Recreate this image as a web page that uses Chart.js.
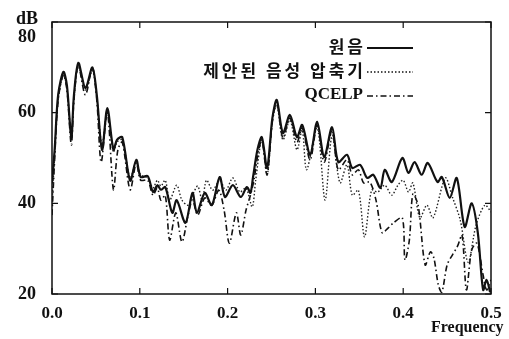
<!DOCTYPE html>
<html>
<head>
<meta charset="utf-8">
<script src="https://cdn.jsdelivr.net/npm/chart.js@4.4.0/dist/chart.umd.min.js"></script>
<style>
  html, body { margin: 0; padding: 0; background: #fff; }
  canvas { display: block; }
</style>
</head>
<body>
<canvas id="spec" width="509" height="339"></canvas>
<script>
// tick values and labels
var xTicks = [0, 0.1, 0.2, 0.3, 0.4, 0.5];
var yTicks = [20, 40, 60, 80];
var seriesNames = ['원음', '제안된 음성 압축기', 'QCELP'];

// 원음 (original)
var origFreq = [0.000, 0.003, 0.007, 0.013, 0.017, 0.022, 0.025, 0.030, 0.038, 0.046, 0.051, 0.057, 0.063, 0.070, 0.074, 0.080, 0.089, 0.096, 0.101, 0.109, 0.115, 0.120, 0.124, 0.129, 0.137, 0.142, 0.152, 0.160, 0.165, 0.174, 0.182, 0.191, 0.197, 0.206, 0.215, 0.222, 0.226, 0.229, 0.234, 0.239, 0.245, 0.251, 0.256, 0.263, 0.271, 0.279, 0.285, 0.294, 0.302, 0.310, 0.319, 0.326, 0.336, 0.342, 0.351, 0.359, 0.366, 0.374, 0.379, 0.387, 0.399, 0.406, 0.413, 0.421, 0.428, 0.439, 0.444, 0.453, 0.461, 0.470, 0.478, 0.485, 0.491, 0.495, 0.499];
var origDb = [44.5, 51.8, 63.9, 69.0, 66.0, 54.6, 63.9, 71.0, 65.4, 70.0, 63.9, 51.8, 61.0, 51.8, 54.0, 54.6, 45.0, 49.6, 45.8, 46.0, 42.5, 44.0, 43.0, 43.6, 37.9, 40.7, 35.7, 42.3, 37.9, 42.3, 39.6, 45.8, 41.4, 44.0, 41.4, 43.6, 42.3, 45.8, 51.8, 54.6, 47.8, 58.8, 62.8, 55.5, 59.5, 54.6, 57.3, 50.7, 58.0, 50.2, 56.8, 49.1, 50.7, 47.8, 48.5, 45.6, 46.3, 43.4, 47.4, 44.7, 50.0, 46.7, 49.1, 46.3, 48.9, 44.7, 45.8, 41.2, 45.6, 34.8, 40.0, 33.5, 20.9, 23.1, 20.4];

// 제안된 음성 압축기 (proposed coder)
var propFreq = [0.000, 0.003, 0.007, 0.013, 0.017, 0.022, 0.025, 0.030, 0.038, 0.046, 0.051, 0.057, 0.063, 0.070, 0.074, 0.080, 0.089, 0.096, 0.101, 0.109, 0.115, 0.120, 0.124, 0.129, 0.134, 0.142, 0.148, 0.155, 0.160, 0.166, 0.171, 0.176, 0.183, 0.191, 0.198, 0.206, 0.214, 0.221, 0.228, 0.232, 0.239, 0.245, 0.251, 0.256, 0.263, 0.271, 0.279, 0.285, 0.290, 0.302, 0.311, 0.319, 0.328, 0.336, 0.342, 0.349, 0.356, 0.364, 0.371, 0.379, 0.387, 0.394, 0.400, 0.406, 0.411, 0.419, 0.427, 0.434, 0.448, 0.456, 0.465, 0.474, 0.483, 0.493, 0.500];
var propDb = [39.6, 50.7, 62.8, 68.3, 65.4, 55.0, 63.2, 70.3, 65.0, 69.3, 63.2, 52.9, 60.1, 51.3, 53.5, 54.0, 45.6, 49.1, 46.3, 45.6, 43.4, 45.1, 43.8, 45.1, 40.7, 44.0, 40.7, 39.6, 41.8, 43.8, 40.7, 45.1, 42.9, 45.1, 42.9, 45.6, 42.5, 43.4, 39.2, 45.1, 54.0, 46.3, 58.0, 61.7, 54.0, 58.4, 51.8, 56.2, 47.4, 56.6, 40.7, 55.0, 44.5, 48.5, 41.8, 42.9, 32.6, 42.9, 42.5, 44.0, 41.8, 44.0, 45.1, 42.5, 44.5, 36.8, 39.6, 36.8, 45.6, 41.4, 36.3, 27.0, 35.2, 39.6, 38.1];

// QCELP
var qcelpFreq = [0.000, 0.003, 0.007, 0.013, 0.017, 0.022, 0.025, 0.030, 0.038, 0.046, 0.051, 0.056, 0.063, 0.070, 0.075, 0.080, 0.089, 0.096, 0.101, 0.109, 0.115, 0.120, 0.124, 0.129, 0.134, 0.141, 0.148, 0.155, 0.160, 0.166, 0.174, 0.182, 0.190, 0.196, 0.202, 0.210, 0.215, 0.221, 0.226, 0.230, 0.235, 0.239, 0.245, 0.251, 0.256, 0.263, 0.271, 0.279, 0.285, 0.294, 0.302, 0.310, 0.319, 0.326, 0.336, 0.342, 0.349, 0.355, 0.362, 0.369, 0.376, 0.383, 0.389, 0.399, 0.402, 0.407, 0.411, 0.417, 0.425, 0.431, 0.435, 0.440, 0.444, 0.450, 0.456, 0.462, 0.467, 0.472, 0.478, 0.484, 0.491, 0.495, 0.500];
var qcelpDb = [37.4, 49.6, 62.8, 68.3, 65.0, 52.9, 62.8, 70.3, 63.9, 69.9, 62.8, 49.1, 60.1, 43.0, 51.8, 53.5, 43.0, 48.9, 45.1, 45.1, 41.8, 43.4, 40.7, 41.8, 31.9, 37.9, 31.5, 37.4, 40.7, 37.4, 41.2, 39.6, 42.9, 38.5, 31.2, 37.9, 33.0, 38.5, 41.8, 45.1, 51.3, 54.0, 46.3, 58.0, 62.4, 54.4, 58.8, 53.5, 56.6, 49.6, 57.3, 49.1, 56.2, 47.4, 49.6, 46.3, 47.4, 44.5, 44.7, 40.7, 33.5, 34.6, 35.7, 36.8, 27.5, 31.9, 42.0, 39.6, 26.4, 29.3, 27.9, 22.0, 20.4, 26.4, 28.6, 30.6, 33.0, 20.9, 29.7, 31.2, 24.2, 20.9, 23.1];

function pts(fs, vs) {
    return fs.map(function (f, i) { return { x: f, y: vs[i] }; });
}

var serif = '"Liberation Serif", "Times New Roman", serif';
var hangul = '"Noto Sans CJK KR", "Noto Sans", sans-serif';

// frame, inward ticks, tick labels and the legend in the gnuplot look
var framePlugin = {
    id: 'frame',
    afterDraw: function (chart) {
        var ctx = chart.ctx;
        var a = chart.chartArea;
        var xs = chart.scales.x, ys = chart.scales.y;
        ctx.save();
        ctx.strokeStyle = '#111';
        ctx.lineWidth = 1.5;
        ctx.setLineDash([]);
        ctx.strokeRect(a.left, a.top, a.right - a.left, a.bottom - a.top);

        ctx.lineWidth = 1.2;
        xTicks.forEach(function (t) {
            var px = xs.getPixelForValue(t);
            ctx.beginPath();
            ctx.moveTo(px, a.bottom); ctx.lineTo(px, a.bottom - 6);
            ctx.moveTo(px, a.top); ctx.lineTo(px, a.top + 6);
            ctx.stroke();
        });
        yTicks.forEach(function (t) {
            var py = ys.getPixelForValue(t);
            ctx.beginPath();
            ctx.moveTo(a.left, py); ctx.lineTo(a.left + 6, py);
            ctx.moveTo(a.right, py); ctx.lineTo(a.right - 6, py);
            ctx.stroke();
        });

        ctx.fillStyle = '#111';
        ctx.font = 'bold 17px ' + serif;
        ctx.textAlign = 'center';
        ctx.textBaseline = 'middle';
        xTicks.forEach(function (t) {
            ctx.fillText(t.toFixed(1), xs.getPixelForValue(t), 314);
        });
        ctx.font = 'bold 18px ' + serif;
        yTicks.forEach(function (t) {
            var py = ys.getPixelForValue(t);
            if (t === 80) py += 15;
            ctx.fillText(String(t), 27, py);
        });
        ctx.fillText('dB', 27, 19);

        ctx.font = 'bold 16px ' + serif;
        ctx.textAlign = 'left';
        ctx.fillText('Frequency', 431, 328);

        // legend: text right-aligned, line sample to its right
        var rows = [
            { y: 47, dash: [], width: 2, font: 'bold 17px ' + hangul, gap: '3px' },
            { y: 71, dash: [1.5, 2], width: 1.3, font: 'bold 17px ' + hangul, gap: '3px' },
            { y: 95, dash: [6, 3, 1.5, 3], width: 1.5, font: 'bold 17px ' + serif, gap: '0px' }
        ];
        ctx.textAlign = 'right';
        rows.forEach(function (r, i) {
            ctx.font = r.font;
            ctx.letterSpacing = r.gap;
            ctx.fillText(seriesNames[i], 363 + parseFloat(r.gap), r.y);
            ctx.beginPath();
            ctx.setLineDash(r.dash);
            ctx.lineWidth = r.width;
            ctx.moveTo(367, r.y + 1);
            ctx.lineTo(413, r.y + 1);
            ctx.stroke();
        });
        ctx.restore();
    }
};

new Chart(document.getElementById('spec').getContext('2d'), {
    type: 'line',
    data: {
        datasets: [{
            label: seriesNames[0],
            data: pts(origFreq, origDb),
            borderColor: '#111',
            borderWidth: 2.2,
            pointRadius: 0,
            tension: 0.3
        }, {
            label: seriesNames[1],
            data: pts(propFreq, propDb),
            borderColor: '#222',
            borderWidth: 1.4,
            borderDash: [1.5, 2],
            pointRadius: 0,
            tension: 0.3
        }, {
            label: seriesNames[2],
            data: pts(qcelpFreq, qcelpDb),
            borderColor: '#111',
            borderWidth: 1.6,
            borderDash: [6, 3, 1.5, 3],
            pointRadius: 0,
            tension: 0.3
        }]
    },
    options: {
        responsive: false,
        animation: false,
        devicePixelRatio: 1,
        layout: { padding: { left: 52, right: 18, top: 22, bottom: 45 } },
        plugins: { legend: { display: false }, tooltip: { enabled: false } },
        scales: {
            x: { type: 'linear', min: 0, max: 0.5, display: false },
            y: { min: 20, max: 80, display: false }
        }
    },
    plugins: [framePlugin]
});
</script>
</body>
</html>
